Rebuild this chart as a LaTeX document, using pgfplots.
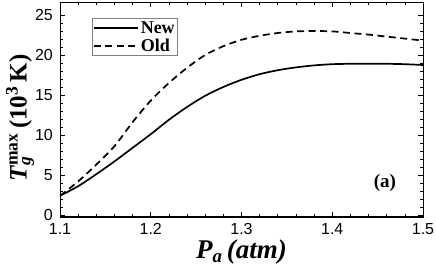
\documentclass[border=0pt]{standalone}
\usepackage{pgfplots}
\pgfplotsset{compat=1.18}
\usepackage{fontspec}
\setmainfont{Liberation Serif}
\newfontfamily\arial{Liberation Sans}
\begin{document}
\begin{tikzpicture}
\begin{axis}[
  at={(0,0)}, anchor=south west,
  scale only axis, width=363pt, height=215pt,
  xmin=1.1, xmax=1.5, ymin=-0.25, ymax=26.625,
  xtick={1.1,1.2,1.3,1.4,1.5}, ytick={0,5,10,15,20,25},
  minor x tick num=4, minor y tick num=4,
  tick align=inside,
  major tick length=5pt, minor tick length=3pt,
  every tick/.style={black, line width=0.6pt},
  axis line style={line width=0.8pt},
  /pgf/number format/assume math mode=true,
  tick label style={font=\arial\fontsize{16}{16}\selectfont, inner sep=1pt},
  xticklabel style={/pgf/number format/fixed, /pgf/number format/precision=1, /pgf/number format/fixed zerofill, yshift=-5pt},
  yticklabel style={xshift=-6pt},
  xlabel={\textbf{\textit{P\textsubscript{a}\,(atm)}}},
  xlabel style={at={(axis description cs:0.5,-0.165)}, anchor=center, inner sep=0pt, font=\fontsize{27}{27}\selectfont},
  ylabel={\textbf{\textit{T}}\rlap{\textsubscript{\textbf{\textit{g}}}}\textsuperscript{\textbf{max}}\,\textbf{(10\textsuperscript{3}\,K)}},
  ylabel style={at={(axis description cs:-0.11,0.46)}, anchor=center, font=\fontsize{25}{25}\selectfont},
  legend cell align=left,
  legend style={at={(axis cs:1.135,24.6)}, anchor=north west, draw=gray, line width=0.6pt,
    font=\bfseries\fontsize{18}{18}\selectfont, inner sep=1pt, row sep=0pt},
  legend image code/.code={\draw[#1] (0pt,0pt) -- (44pt,0pt);},
]
\addplot[black, line width=1.7pt, smooth] coordinates {
(1.10,2.4) (1.12,3.6) (1.14,5.1) (1.16,6.7) (1.18,8.4) (1.20,10.1) (1.22,11.9)
(1.24,13.5) (1.26,14.9) (1.28,16.0) (1.30,16.9) (1.32,17.6) (1.34,18.1)
(1.36,18.45) (1.38,18.7) (1.40,18.85) (1.42,18.9) (1.44,18.9) (1.46,18.9)
(1.48,18.85) (1.50,18.75)};
\addlegendentry{New}
\addplot[black, line width=1.7pt, dash pattern=on 7pt off 4.5pt, smooth] coordinates {
(1.10,2.4) (1.12,4.2) (1.14,6.3) (1.16,8.6) (1.18,11.6) (1.20,14.3) (1.22,16.5)
(1.24,18.4) (1.26,20.0) (1.28,21.1) (1.30,21.9) (1.32,22.4) (1.34,22.75)
(1.36,22.95) (1.38,23.0) (1.40,22.95) (1.42,22.75) (1.44,22.55) (1.46,22.3)
(1.48,22.05) (1.50,21.8)};
\addlegendentry{Old}
\draw[line width=2pt] (rel axis cs:0,0) -- (rel axis cs:1,0);
\node[font=\bfseries\fontsize{19}{19}\selectfont] at (axis cs:1.458,4.0) {(a)};
\end{axis}
\pgfresetboundingbox
\path[use as bounding box] (-60pt,-50pt) rectangle (376pt,217pt);
\end{tikzpicture}
\end{document}
